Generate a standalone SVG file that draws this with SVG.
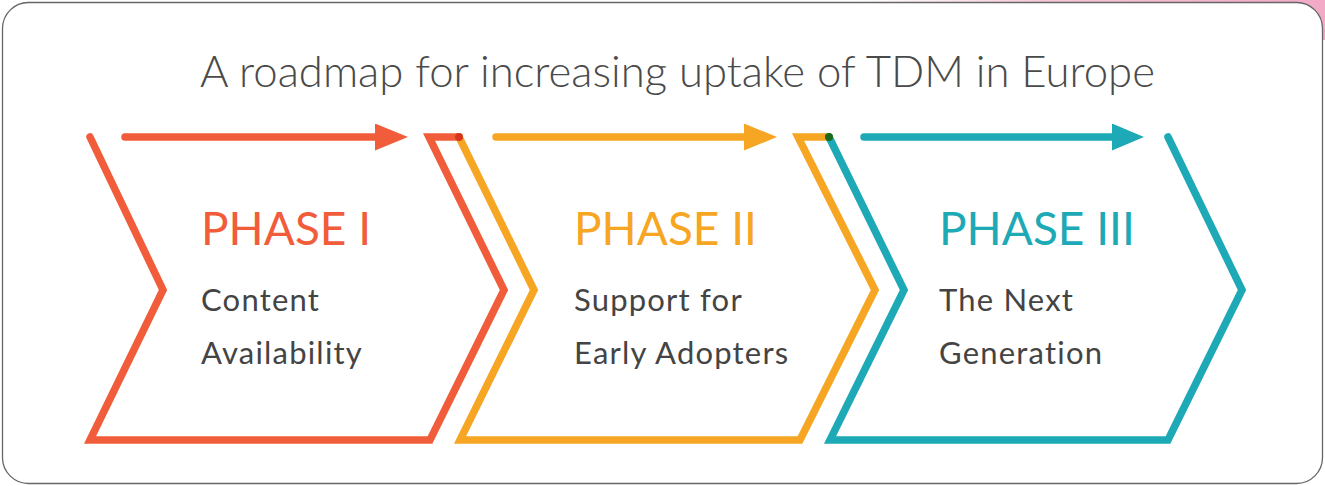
<svg xmlns="http://www.w3.org/2000/svg" width="1325" height="486" viewBox="0 0 1325 486">
<defs>
<linearGradient id="pink" x1="0" y1="0" x2="1" y2="0">
<stop offset="0" stop-color="#f7c6d9" stop-opacity="0"/>
<stop offset="0.4" stop-color="#f4b8cf" stop-opacity="0.8"/>
<stop offset="1" stop-color="#f2a9c6"/>
</linearGradient>
<marker id="hR" viewBox="0 0 10 10" refX="0" refY="5" markerWidth="4.4" markerHeight="3.6" markerUnits="strokeWidth" orient="auto" preserveAspectRatio="none"><path d="M0,0 L10,5 L0,10 z" fill="#F15D3A"/></marker>
<marker id="hO" viewBox="0 0 10 10" refX="0" refY="5" markerWidth="4.4" markerHeight="3.6" markerUnits="strokeWidth" orient="auto" preserveAspectRatio="none"><path d="M0,0 L10,5 L0,10 z" fill="#F6A623"/></marker>
<marker id="hT" viewBox="0 0 10 10" refX="0" refY="5" markerWidth="4.3" markerHeight="3.6" markerUnits="strokeWidth" orient="auto" preserveAspectRatio="none"><path d="M0,0 L10,5 L0,10 z" fill="#1DA9B5"/></marker>
</defs>
<style>
.shape{fill:none;stroke-width:7.5;stroke-linecap:round;stroke-linejoin:miter}
.arr{fill:none;stroke-width:7.5;stroke-linecap:round}
.red{stroke:#F15D3A}.org{stroke:#F6A623}.teal{stroke:#1DA9B5}
.title{font-family:Lato,"Open Sans","Liberation Sans",sans-serif;font-weight:300;font-size:44px;fill:#4a4a4a}
.ph{font-family:Lato,"Open Sans","Liberation Sans",sans-serif;font-size:46px;font-weight:400}
.body{font-family:Lato,"Open Sans","Liberation Sans",sans-serif;font-size:31px;letter-spacing:1.2px;fill:#444}
</style>
<rect x="0" y="0" width="1325" height="486" fill="#fff"/>
<rect x="860" y="0" width="465" height="40" fill="url(#pink)"/>
<rect x="2.5" y="2.5" width="1320" height="481" rx="26" ry="26" fill="#fff" stroke="#666" stroke-width="1.3"/>
<text class="title" x="200" y="87" textLength="955" lengthAdjust="spacingAndGlyphs">A roadmap for increasing uptake of TDM in Europe</text>
<g id="connectors">
<line class="arr red" x1="125" y1="137" x2="375" y2="137" marker-end="url(#hR)"/>
<line class="arr org" x1="496" y1="137" x2="744" y2="137" marker-end="url(#hO)"/>
<line class="arr teal" x1="864" y1="137" x2="1112" y2="137" marker-end="url(#hT)"/>
</g>
<g id="phase1">
<path class="shape red" d="M90,137 L163,290 L90,440 L430,440 L504,290 L429,137 L459,137"/>
<text class="ph" x="201" y="245" fill="#F15D3A">PHASE I</text>
<text class="body" x="201" y="311">Content</text>
<text class="body" x="201" y="364">Availability</text>
</g>
<g id="phase2">
<path class="shape org" d="M459,137 L534,290 L460,440 L800,440 L875,290 L798,137 L829,137"/>
<text class="ph" x="574" y="245" fill="#F6A623">PHASE II</text>
<text class="body" x="574" y="311">Support for</text>
<text class="body" x="574" y="364">Early Adopters</text>
</g>
<g id="phase3">
<path class="shape teal" d="M829,137 L904,290 L830,440 L1168,440 L1242,290 L1168,137"/>
<text class="ph" x="939" y="245" fill="#1DA9B5">PHASE III</text>
<text class="body" x="939" y="311">The Next</text>
<text class="body" x="939" y="364">Generation</text>
</g>
<circle cx="459" cy="137" r="4" fill="#d8361c"/>
<circle cx="829" cy="137" r="4" fill="#1b6b1e"/>
</svg>
